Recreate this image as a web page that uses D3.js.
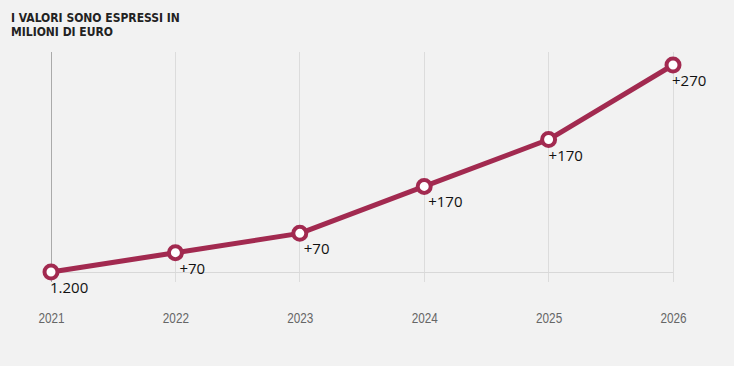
<!DOCTYPE html>
<html><head><meta charset="utf-8">
<script src="https://cdn.jsdelivr.net/npm/d3@7"></script>
<style>
html,body{margin:0;padding:0;background:#f2f2f2;}
svg{display:block;}
</style></head>
<body>
<script>
const years = ["2021","2022","2023","2024","2025","2026"];
const values = [1200, 1270, 1340, 1510, 1680, 1950];
const labels = ["1.200","+70","+70","+170","+170","+270"];
const titleLines = ["I VALORI SONO ESPRESSI IN","MILIONI DI EURO"];

const W = 734, H = 366;
const svg = d3.select("body").append("svg").attr("width", W).attr("height", H);
svg.append("rect").attr("width", W).attr("height", H).attr("fill", "#f2f2f2");

const x = d3.scalePoint().domain(years).range([51, 673]);
const y = d3.scaleLinear().domain([1200, 1950]).range([272, 65]);

// title
svg.append("text").attr("x", 11).attr("y", 22)
  .attr("font-family", "'Liberation Sans Narrow','DejaVu Sans Condensed',sans-serif")
  .attr("font-stretch", "condensed")
  .attr("font-weight", "bold").attr("font-size", 12).attr("fill", "#222")
  .selectAll("tspan").data(titleLines).join("tspan")
  .attr("x", 11).attr("dy", (d, i) => i ? 14 : 0).text(d => d);

// vertical grid
svg.append("g").selectAll("line").data(years).join("line")
  .attr("x1", d => x(d)).attr("x2", d => x(d))
  .attr("y1", 52).attr("y2", 282)
  .attr("stroke", (d, i) => i === 0 ? "#aaa" : "#dcdcdc")
  .attr("stroke-width", 1).attr("shape-rendering", "crispEdges");

// baseline
svg.append("line").attr("x1", x(years[0])).attr("x2", x(years[years.length - 1]))
  .attr("y1", y(values[0])).attr("y2", y(values[0]))
  .attr("stroke", "#d8d8d8").attr("stroke-width", 1).attr("shape-rendering", "crispEdges");

// x axis labels
const xAxis = d3.axisBottom(x).tickSize(0).tickPadding(0);
const gx = svg.append("g").attr("transform", "translate(0,313)").call(xAxis);
gx.select(".domain").remove();
gx.selectAll("text")
  .attr("font-family", "'Liberation Sans',Arial,sans-serif")
  .attr("font-size", 14).attr("fill", "#666")
  .attr("transform", "scale(0.84,1)");

const data = years.map((yr, i) => ({yr, v: values[i], l: labels[i]}));

// line
svg.append("path").datum(data)
  .attr("d", d3.line().x(d => x(d.yr)).y(d => y(d.v)))
  .attr("fill", "none").attr("stroke", "#a22a50").attr("stroke-width", 5)
  .attr("stroke-linejoin", "round");

// points
svg.append("g").selectAll("circle").data(data).join("circle")
  .attr("cx", d => x(d.yr)).attr("cy", d => y(d.v)).attr("r", 6.5)
  .attr("fill", "#fff").attr("stroke", "#a22a50").attr("stroke-width", 4);

// value labels
svg.append("g").selectAll("text").data(data).join("text")
  .attr("x", (d, i) => x(d.yr) + (i === 0 ? -1 : i === 5 ? -1 : i === 4 ? 0 : 4))
  .attr("y", d => y(d.v) + 21)
  .attr("font-family", "'Open Sans','Noto Sans',sans-serif")
  .attr("font-size", 15).attr("fill", "#111")
  .text(d => d.l);
</script>
</body></html>
